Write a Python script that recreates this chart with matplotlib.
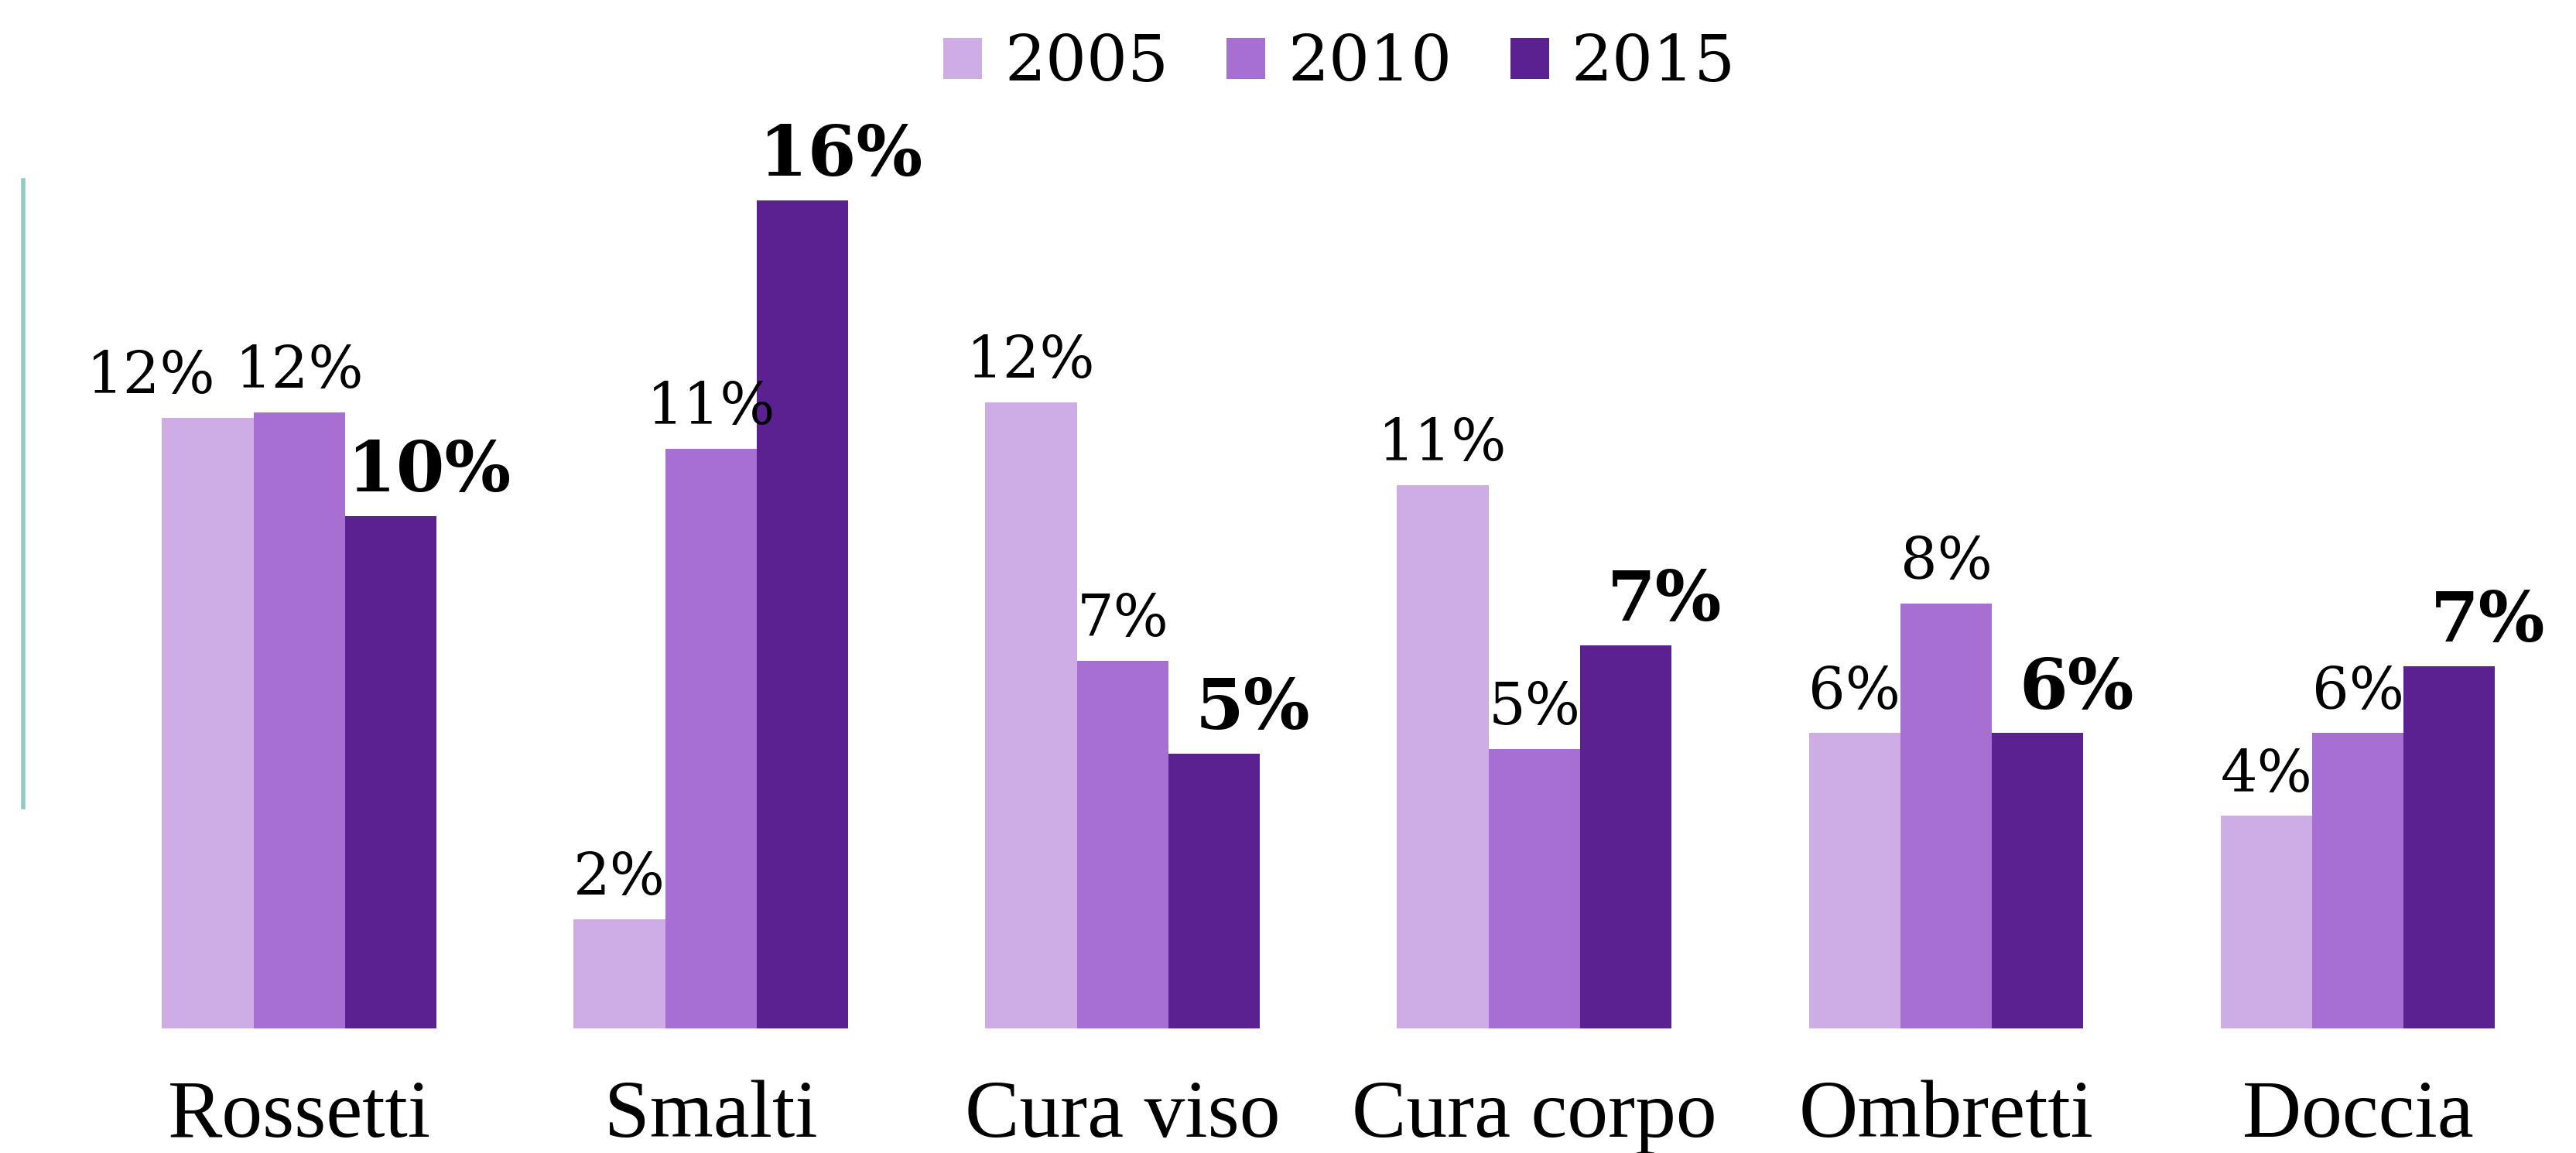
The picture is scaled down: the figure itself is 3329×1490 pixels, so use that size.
import numpy as np
import matplotlib
matplotlib.use("Agg")
import matplotlib.pyplot as plt
from matplotlib.lines import Line2D
from matplotlib.patches import Patch

# Dati (quote %)
categorie = ["Rossetti", "Smalti", "Cura viso", "Cura corpo", "Ombretti", "Doccia"]
anni = ["2005", "2010", "2015"]
v2005 = [11.8, 2.1, 12.1, 10.5, 5.7, 4.1]
v2010 = [11.9, 11.2, 7.1, 5.4, 8.2, 5.7]
v2015 = [9.9, 16.0, 5.3, 7.4, 5.7, 7.0]
lab2005 = ["12%", "2%", "12%", "11%", "6%", "4%"]
lab2010 = ["12%", "11%", "7%", "5%", "8%", "6%"]
lab2015 = ["10%", "16%", "5%", "7%", "6%", "7%"]

colori = ["#CDADE3", "#A66FD1", "#5B2190"]

fig = plt.figure(figsize=(33.29, 14.90), dpi=100)
ax = fig.add_axes([0, 0.1083, 1, 0.8917])

x = np.arange(len(categorie))
w = 0.2223
serie = [v2005, v2010, v2015]
etichette = [lab2005, lab2010, lab2015]

for i, (vals, labs) in enumerate(zip(serie, etichette)):
    pos = x + (i - 1) * w
    ax.bar(pos, vals, width=w, color=colori[i], edgecolor="none")
    for j, (xx, v, t) in enumerate(zip(pos, vals, labs)):
        dx = 0
        if i == 2:
            dx = 36  # le etichette in grassetto sono spostate a destra
            peso, size = "bold", 65
        else:
            peso, size = "normal", 54
        if i == 0 and j == 0:
            dx = -53
        ax.annotate(t, (xx, v), xytext=(dx, 23), textcoords="offset points",
                    ha="center", va="baseline", fontsize=size, fontweight=peso,
                    family="DejaVu Serif", color="black")

ax.set_xlim(-0.7268, 5.530)
ax.set_ylim(0, 19.87)
ax.set_xticks(x)
ax.set_xticklabels(categorie, fontsize=76, family="Liberation Serif")
ax.tick_params(axis="x", length=0, pad=48)
ax.set_yticks([])
for s in ax.spines.values():
    s.set_visible(False)

# linea decorativa a sinistra
fig.add_artist(Line2D([0.009, 0.009], [0.3, 0.8436], color="#93C9C5", lw=4))

handles = [Patch(facecolor=c, edgecolor="none") for c in colori]
fig.legend(handles, anni, loc="upper center", bbox_to_anchor=(0.52, 1.0), ncol=3,
           frameon=False, prop={"family": "DejaVu Serif", "size": 60},
           handlelength=0.6, handleheight=0.6, handletextpad=0.35,
           columnspacing=0.9, borderaxespad=0.1)

fig.savefig("out.png", dpi=100)
